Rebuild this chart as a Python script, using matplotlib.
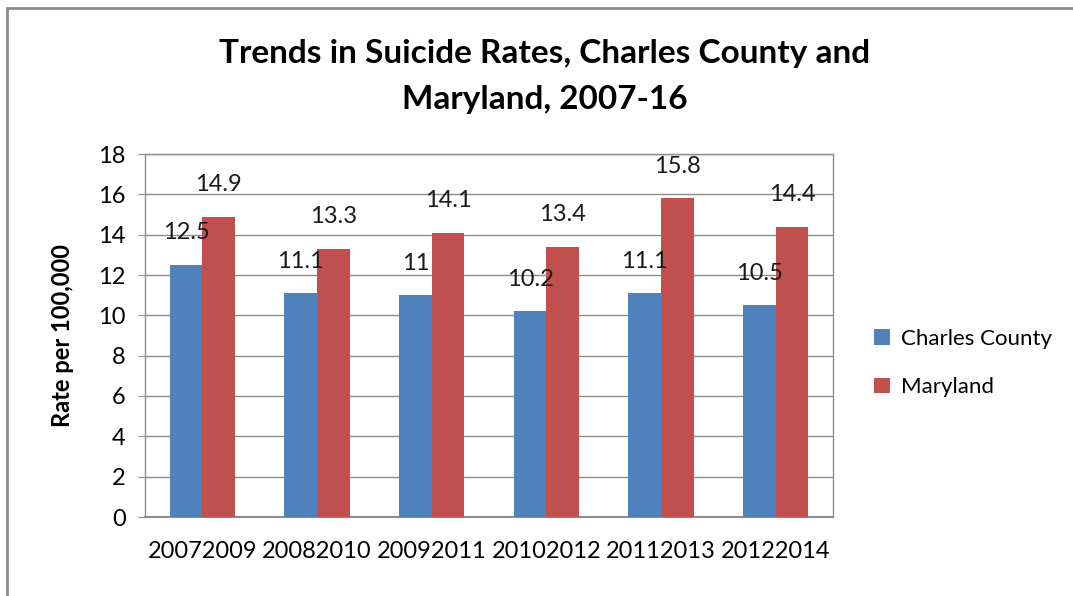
import matplotlib
matplotlib.use("Agg")
import matplotlib.pyplot as plt
import numpy as np
from matplotlib.patches import Rectangle

categories = ["20072009", "20082010", "20092011", "20102012", "20112013", "20122014"]
charles = [12.5, 11.1, 11.0, 10.2, 11.1, 10.5]
maryland = [14.9, 13.3, 14.1, 13.4, 15.8, 14.4]
charles_labels = ["12.5", "11.1", "11", "10.2", "11.1", "10.5"]
maryland_labels = ["14.9", "13.3", "14.1", "13.4", "15.8", "14.4"]

FONT = "Lato"
W, H = 1073, 596
fig = plt.figure(figsize=(W / 100, H / 100), dpi=100)

# outer chart border
fig.patches.append(Rectangle((7 / W, -0.05), 1.2, 1 - 8 / H + 0.05, transform=fig.transFigure,
                             fill=False, edgecolor="#8c8c8c", linewidth=2, zorder=0))

ax = fig.add_axes([145 / W, 1 - 517 / H, (833 - 145) / W, (517 - 154) / H])

x = np.arange(len(categories))
bw = 1 / 3.5
b1 = ax.bar(x - bw / 2, charles, bw, color="#4f81bd", label="Charles County", zorder=3)
b2 = ax.bar(x + bw / 2, maryland, bw, color="#c0504d", label="Maryland", zorder=3)

for xi, v, t in zip(x - bw / 2, charles, charles_labels):
    ax.annotate(t, (xi, v), xytext=(0, 23), textcoords="offset points", ha="center", va="center",
                fontsize=17, family=FONT, color="#1a1a1a", zorder=4)
for xi, v, t in zip(x + bw / 2, maryland, maryland_labels):
    ax.annotate(t, (xi, v), xytext=(0, 23), textcoords="offset points", ha="center", va="center",
                fontsize=17, family=FONT, color="#1a1a1a", zorder=4)

ax.set_xlim(-0.5, len(categories) - 0.5)
ax.set_ylim(0, 18)
ax.set_yticks(np.arange(0, 19, 2))
ax.yaxis.grid(True, color="#8c8c8c", linewidth=1)
ax.set_axisbelow(True)
ax.set_xticks(x)
ax.set_xticklabels(categories, fontsize=17, family=FONT)
ax.tick_params(axis="x", length=0, pad=17)
ax.tick_params(axis="y", length=5, color="#8c8c8c", labelsize=17, pad=9)
for lab in ax.get_yticklabels():
    lab.set_family(FONT)
for s in ax.spines.values():
    s.set_color("#8c8c8c")
    s.set_linewidth(1)
ax.spines["bottom"].set_linewidth(1.5)

ax.set_ylabel("Rate per 100,000", fontsize=17, family=FONT, fontweight="bold", labelpad=17)

fig.text(545 / W, 1 - 53 / H, "Trends in Suicide Rates, Charles County and", ha="center", va="center",
         fontsize=24, fontweight="bold", family=FONT)
fig.text(545 / W, 1 - 100 / H, "Maryland, 2007-16", ha="center", va="center",
         fontsize=24, fontweight="bold", family=FONT)

leg = fig.legend(handles=[b1, b2], loc="center left", bbox_to_anchor=(874 / W, 1 - 363 / H),
                 frameon=False, prop={"family": FONT, "size": 16}, handlelength=0.7, handleheight=0.7,
                 labelspacing=1.3, handletextpad=0.5, borderpad=0, borderaxespad=0)

fig.savefig("out.png", dpi=100)
